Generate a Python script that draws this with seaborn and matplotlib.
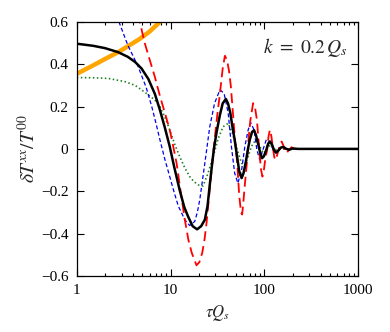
import matplotlib
matplotlib.use("Agg")
import seaborn as sns
import matplotlib.pyplot as plt
from matplotlib.ticker import FixedLocator, NullFormatter, LogLocator

# values
black_x = [1.0, 1.5, 2.0, 2.76, 3.5, 4.2, 4.9, 5.8, 6.8, 7.7, 8.7, 9.8, 11.0, 12.5, 14.0, 15.4,
           17.2, 19.2, 21.2, 23.2, 24.8, 26.2, 27.6, 29.0, 31.0, 33.6, 36.0, 38.9, 41.0, 43.4,
           45.5, 48.3, 51.4, 54.0, 57.3, 60.0, 63.6, 67.0, 70.0, 74.0, 77.8, 81.5, 85.8, 90.0,
           94.5, 99.0, 105.0, 110.0, 115.0, 121.0, 127.0, 133.0, 141.0, 150.0, 160.0, 172.0,
           185.0, 200.0, 230.0, 1000.0]
black_y = [0.497, 0.487, 0.476, 0.457, 0.435, 0.41, 0.38, 0.33, 0.26, 0.184, 0.1, 0.011, -0.09,
           -0.194, -0.275, -0.32, -0.365, -0.38, -0.365, -0.335, -0.27, -0.17, -0.08, 0.0, 0.08,
           0.16, 0.215, 0.236, 0.215, 0.17, 0.11, 0.043, -0.04, -0.105, -0.138, -0.115, -0.06,
           0.0, 0.043, 0.08, 0.088, 0.065, 0.025, -0.015, -0.044, -0.035, -0.005, 0.025, 0.035,
           0.02, -0.005, -0.017, -0.008, 0.006, 0.009, 0.0, -0.004, 0.002, 0.0, 0.0]

red_x = [4.0, 4.7, 5.3, 6.0, 6.8, 7.7, 8.7, 9.8, 10.7, 11.6, 12.8, 14.2, 15.5, 16.8, 18.9, 20.3,
         21.8, 23.0, 24.2, 26.2, 29.5, 31.5, 33.6, 36.0, 38.0, 40.0, 42.0, 43.9, 46.3, 48.5, 51.4,
         54.0, 56.5, 58.0, 59.3, 62.0, 65.1, 68.0, 71.1, 76.0, 80.0, 83.4, 86.5, 89.6, 92.5,
         95.6, 99.0, 103.0, 106.7, 111.0, 114.8, 119.0, 124.0, 128.0, 132.0, 137.0, 145.0,
         153.0, 160.0, 166.0, 173.0, 183.0, 195.0, 210.0, 1000.0]
red_y = [0.75, 0.6, 0.5, 0.42, 0.34, 0.25, 0.17, 0.09, 0.01, -0.068, -0.2, -0.335, -0.43, -0.49,
         -0.55, -0.535, -0.49, -0.43, -0.35, -0.19, 0.043, 0.16, 0.26, 0.38, 0.44, 0.42, 0.37,
         0.3, 0.169, 0.05, -0.066, -0.22, -0.3, -0.31, -0.27, -0.17, -0.068, 0.05, 0.137,
         0.216, 0.19, 0.137, 0.05, -0.036, -0.1, -0.131, -0.1, -0.04, -0.01, 0.06, 0.09, 0.06,
         0.0, -0.04, -0.052, -0.03, 0.01, 0.035, 0.015, -0.01, -0.02, -0.005, 0.008, 0.0, 0.0]

blue_x = [2.6, 2.76, 3.5, 4.5, 5.5, 6.3, 7.0, 7.7, 8.7, 9.8, 11.0, 12.1, 14.2, 16.0, 18.1, 19.3,
          20.5, 23.2, 26.2, 29.5, 33.6, 37.2, 41.2, 44.6, 48.3, 52.3, 57.3, 62.0, 67.3, 71.6,
          77.8, 83.4, 89.6, 97.4, 105.0, 111.0, 118.0, 126.0, 134.0, 145.0, 155.0, 170.0, 1000.0]
blue_y = [0.66, 0.61, 0.49, 0.39, 0.29, 0.2, 0.12, 0.043, -0.05, -0.131, -0.21, -0.27, -0.335,
          -0.362, -0.343, -0.3, -0.24, -0.068, 0.105, 0.216, 0.279, 0.263, 0.169, 0.011, -0.115,
          -0.162, -0.1, 0.011, 0.09, 0.124, 0.09, -0.005, -0.052, 0.0, 0.043, 0.04, 0.02, -0.01,
          -0.02, 0.0, 0.01, 0.0, 0.0]

green_x = [1.0, 1.5, 2.16, 3.25, 4.2, 4.9, 5.8, 6.8, 7.7, 8.7, 9.8, 11.0, 12.5, 14.2, 16.0,
           17.8, 19.7, 22.2, 25.1, 28.5, 32.3, 36.4, 41.2, 45.7, 51.4, 57.3, 62.0, 67.3, 72.9,
           81.0, 88.0, 97.4, 104.0, 110.0, 116.0, 125.0, 135.0, 150.0, 1000.0]
green_y = [0.337, 0.336, 0.333, 0.318, 0.3, 0.279, 0.255, 0.231, 0.2, 0.15, 0.09, 0.025, -0.036,
           -0.09, -0.131, -0.155, -0.17, -0.175, -0.115, -0.036, 0.05, 0.105, 0.121, 0.074,
           -0.005, -0.068, -0.076, -0.036, 0.011, 0.043, 0.019, -0.02, -0.012, 0.008, 0.017,
           0.005, -0.005, 0.0, 0.0]

orange_x = [1.0, 1.5, 2.0, 2.76, 3.5, 4.7, 6.0, 7.7, 8.5]
orange_y = [0.355, 0.395, 0.425, 0.457, 0.485, 0.52, 0.555, 0.6, 0.62]

yticks = [-0.6, -0.4, -0.2, 0.0, 0.2, 0.4, 0.6]
ytick_labels = ["\u22120.6", "\u22120.4", "\u22120.2", "0", "0.2", "0.4", "0.6"]
xticks = [1, 10, 100, 1000]
xtick_labels = ["1", "10", "100", "1000"]

sns.set_style("ticks")
plt.rcParams["font.family"] = ["Liberation Serif", "DejaVu Serif"]
plt.rcParams["mathtext.fontset"] = "stix"

fig = plt.figure(figsize=(3.9, 3.32), dpi=100)
ax = fig.add_axes([0.197, 0.169, 0.721, 0.765])

sns.lineplot(x=orange_x, y=orange_y, ax=ax, color="#ffa500", linewidth=3.2, sort=False)
sns.lineplot(x=green_x, y=green_y, ax=ax, color="#1e7f1e", linewidth=1.2, sort=False)
ax.lines[-1].set_dashes([0.9, 1.5])
sns.lineplot(x=blue_x, y=blue_y, ax=ax, color="#0000ee", linewidth=0.9, sort=False)
ax.lines[-1].set_dashes([3.2, 2.0])
sns.lineplot(x=red_x, y=red_y, ax=ax, color="#ff0000", linewidth=1.3, sort=False)
ax.lines[-1].set_dashes([5.5, 2.8])
sns.lineplot(x=black_x, y=black_y, ax=ax, color="black", linewidth=1.8, sort=False)

ax.set_xscale("log")
ax.set_xlim(1, 1000)
ax.set_ylim(-0.6, 0.6)
ax.xaxis.set_major_locator(FixedLocator(xticks))
ax.set_xticklabels(xtick_labels)
ax.xaxis.set_minor_locator(LogLocator(base=10, subs=range(2, 10)))
ax.xaxis.set_minor_formatter(NullFormatter())
ax.set_yticks(yticks)
ax.set_yticklabels(ytick_labels)

ax.tick_params(which="both", direction="in", top=True, right=True, labelsize=11,
               width=0.8, colors="black")
ax.tick_params(which="major", length=5, pad=6)
ax.tick_params(which="minor", length=2.5)
for s in ax.spines.values():
    s.set_linewidth(0.9)
    s.set_color("black")

ax.set_xlabel(r"$\tau Q_s$", fontsize=12, labelpad=4)
ax.set_ylabel(r"$\delta T^{xx}/T^{00}$", fontsize=14, labelpad=1)
ax.text(0.965, 0.9, r"$k\ =\ 0.2\,Q_s$", transform=ax.transAxes, ha="right", va="center",
        fontsize=14)

fig.savefig("out.png", dpi=100)
